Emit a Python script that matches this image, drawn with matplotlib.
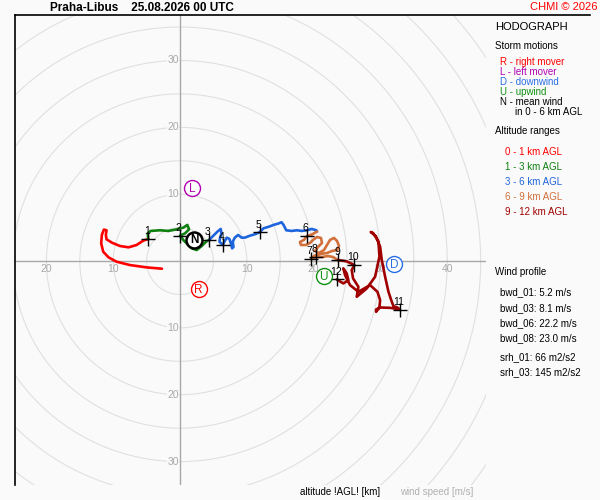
import matplotlib
matplotlib.use("Agg")
import matplotlib.pyplot as plt
import numpy as np
from matplotlib.lines import Line2D

plt.rcParams['font.family'] = ['Liberation Sans', 'DejaVu Sans']

# hodograph segments (u, v in m/s)
red_u = [-2.7, -5.0, -7.5, -9.5, -10.7, -11.5, -11.8, -11.7, -11.4, -11.0, -11.1, -11.0, -10.2, -9.0, -7.7, -6.5, -5.5, -4.75]
red_v = [-1.15, -0.95, -0.6, -0.1, 0.55, 1.4, 2.65, 3.9, 4.7, 4.6, 3.9, 3.25, 2.75, 2.25, 2.05, 2.4, 3.05, 3.3]

green_u = [-4.75, -4.84, -4.4, -3.0, -1.75, -0.5, 0.5, 1.1, 1.35, 0.75, 0.0, 0.5, 1.1, 1.75, 2.5, 3.25, 3.9, 4.4]
green_v = [3.3, 4.14, 4.5, 4.6, 4.5, 4.74, 5.0, 5.4, 4.74, 4.14, 3.8, 3.14, 2.54, 1.9, 1.65, 2.25, 2.9, 3.2]

blue_u = [4.4, 5.0, 5.6, 6.1, 6.2, 6.0, 5.9, 6.4, 6.7, 7.0, 7.4, 7.6, 7.8, 8.0, 7.9, 8.2, 8.7, 9.2, 9.7, 10.5,
          11.2, 11.9, 12.5, 13.2, 14.0, 14.7, 15.2, 15.5, 15.9, 16.7, 17.5, 18.2, 19.0, 19.7, 20.4, 20.5]
blue_v = [3.2, 3.8, 4.4, 4.8, 4.1, 3.5, 2.9, 2.4, 3.0, 3.5, 3.3, 2.65, 1.9, 2.1, 2.9, 3.5, 3.9, 3.5, 3.5, 3.8,
          4.0, 4.3, 4.9, 5.1, 5.4, 5.6, 5.8, 5.4, 4.6, 4.5, 4.6, 4.5, 4.6, 4.8, 4.6, 4.4]

orange_u = [20.5, 19.6, 19.0, 18.55, 17.95, 18.1, 18.85, 19.45, 19.9, 20.5, 21.1, 21.25, 20.65, 20.2, 20.8, 21.55,
            22.0, 22.45, 23.05, 23.5, 23.8, 23.5, 22.75, 22.0, 20.95, 20.05, 19.6, 20.35, 21.25, 22.15, 22.9, 23.65]
orange_v = [4.4, 3.9, 3.75, 3.15, 2.85, 2.4, 2.4, 2.7, 3.15, 3.6, 3.45, 2.7, 2.1, 1.5, 1.2, 1.65,
            2.4, 3.15, 3.45, 3.0, 2.25, 1.65, 1.5, 1.2, 1.05, 0.75, 0.3, 0.6, 0.6, 0.75, 0.6, 0.15]

dred_u = [23.65, 24.95, 26.1, 25.7, 25.9, 26.7, 26.45, 27.95, 29.2, 29.85, 29.7, 28.95, 28.55, 29.35, 29.95, 30.2,
          30.7, 31.2, 31.7, 31.95, 32.55, 32.9, 31.45, 29.95, 29.35, 29.35, 29.85, 29.95, 29.55, 28.45, 26.7,
          25.45, 24.7, 24.45, 24.95, 25.2, 24.45, 23.45]
dred_v = [0.15, -0.05, -0.6, -1.35, -2.6, -3.85, -5.35, -4.1, -2.35, 0.65, 2.9, 4.15, 4.35, 3.65, 2.15, 0.15,
          -2.35, -4.6, -6.1, -6.75, -6.95, -7.25, -7.0, -6.95, -7.25, -7.6, -6.95, -5.85, -4.6, -3.6, -4.6,
          -3.6, -2.1, -1.1, -1.85, -2.85, -3.35, -2.75]

# km marks along the hodograph
km_labels = ['1', '2', '3', '4', '5', '6', '7', '8', '9', '10', '11', '12']
km_u = [-4.75, 0.0, 4.4, 6.4, 11.9, 19.0, 19.6, 20.4, 23.7, 26.1, 32.9, 23.5]
km_v = [3.3, 3.8, 3.2, 2.4, 4.3, 3.8, 0.3, 0.6, 0.15, -0.6, -7.25, -2.75]

# storm motions
storm_names = ['R', 'L', 'D', 'U', 'N']
storm_u = [2.8, 1.8, 32.0, 21.5, 2.1]
storm_v = [-4.2, 10.9, -0.45, -2.3, 3.2]
storm_cols = ['#ff0000', '#b000b0', '#2a6ee6', '#109010', '#000000']

seg_cols = ['#ff0000', '#108010', '#1e64dc', '#d2703c', '#a00000']
seg_names = ['0 - 1 km AGL', '1 - 3 km AGL', '3 - 6 km AGL', '6 - 9 km AGL', '9 - 12 km AGL']

profile_txt = ['bwd_01: 5.2 m/s', 'bwd_03: 8.1 m/s', 'bwd_06: 22.2 m/s', 'bwd_08: 23.0 m/s',
               'srh_01: 66 m2/s2', 'srh_03: 145 m2/s2']

bg = '#fafafa'
fig = plt.figure(figsize=(6, 5), dpi=100, facecolor=bg)
ax = fig.add_axes([15/600, 15/500, 471/600, 470/500])
ax.set_facecolor(bg)

# range rings
t = np.linspace(0, 2*np.pi, 400)
for r in range(5, 90, 5):
    ax.plot(r*np.cos(t), r*np.sin(t), color='#e0e0e0', lw=0.8, zorder=1)
ax.axhline(0, color='#a8a8a8', lw=1, zorder=2)
ax.axvline(0, color='#a8a8a8', lw=1, zorder=2)

for xv in [-20, -10, 10, 20, 30, 40]:
    ax.text(xv, -0.5, str(abs(xv)), color='#a8a8a8', fontsize=7.5, ha='center', va='top', zorder=3)
for yv in [-30, -20, -10, 10, 20, 30]:
    ax.text(-0.2, yv, str(abs(yv)), color='#a8a8a8', fontsize=7.5, ha='right', va='center', zorder=3,
            bbox=dict(facecolor=bg, edgecolor='none', pad=0.3))

segs = [(red_u, red_v), (green_u, green_v), (blue_u, blue_v), (orange_u, orange_v), (dred_u, dred_v)]
for (su, sv), c in zip(segs, seg_cols):
    ax.plot(su, sv, color=c, lw=1.9, zorder=4, solid_capstyle='round', solid_joinstyle='round')

ax.plot(km_u, km_v, '+', color='black', ms=10, mew=1.0, zorder=6)
for lab, ku, kv in zip(km_labels, km_u, km_v):
    ax.annotate(lab, (ku, kv), xytext=(-1, 2), textcoords='offset points', ha='center', va='bottom',
                fontsize=7.5, color='black', zorder=7)

for n, su, sv, c in zip(storm_names, storm_u, storm_v, storm_cols):
    ew = 1.8 if n == 'N' else 1.0
    ax.plot(su, sv, 'o', ms=11.5, mfc='white', mec=c, mew=ew, zorder=8)
    ax.text(su, sv - 0.1, n, color=c, fontsize=8.5, ha='center', va='center', zorder=9,
            fontweight='bold' if n == 'N' else 'normal')

ax.set_xlim(-24.7, 45.8)
ax.set_ylim(-33.5, 36.8)
ax.set_xticks([])
ax.set_yticks([])
for s in ['right', 'bottom', 'top']:
    ax.spines[s].set_visible(False)
ax.spines['left'].set_color('black')
ax.spines['left'].set_linewidth(1.2)

fig.add_artist(Line2D([15/600, 590/600], [1 - 15/500, 1 - 15/500], color='black', lw=1.2))

def ftxt(x, y, s, **kw):
    fig.text(x/600, 1 - y/500, s, va='center', **kw)

ftxt(50, 8, 'Praha-Libus    25.08.2026 00 UTC', fontsize=8.5, fontweight='bold')
ftxt(598, 7, 'CHMI © 2026', fontsize=8, color='#ff0000', ha='right')

ftxt(495, 27, 'HODOGRAPH', fontsize=8)
ftxt(495, 46, 'Storm motions', fontsize=7)
ftxt(500, 62, 'R - right mover', fontsize=7, color=storm_cols[0])
ftxt(500, 72, 'L - left mover', fontsize=7, color=storm_cols[1])
ftxt(500, 82, 'D - downwind', fontsize=7, color=storm_cols[2])
ftxt(500, 92, 'U - upwind', fontsize=7, color=storm_cols[3])
ftxt(500, 102, 'N - mean wind', fontsize=7, color='black')
ftxt(515, 112, 'in 0 - 6 km AGL', fontsize=7, color='black')

ftxt(495, 131, 'Altitude ranges', fontsize=7)
for i, (nm, c) in enumerate(zip(seg_names, seg_cols)):
    ftxt(505, 152 + 15*i, nm, fontsize=7, color=c)

ftxt(495, 272, 'Wind profile', fontsize=7)
prof_y = [292, 308, 323, 338, 357, 372]
for s, yy in zip(profile_txt, prof_y):
    ftxt(500, yy, s, fontsize=7)

ftxt(300, 492, 'altitude !AGL! [km]', fontsize=7)
ftxt(400, 492, 'wind speed [m/s]', fontsize=7, color='#b0b0b0')

fig.savefig('out.png', dpi=100, facecolor=bg)
